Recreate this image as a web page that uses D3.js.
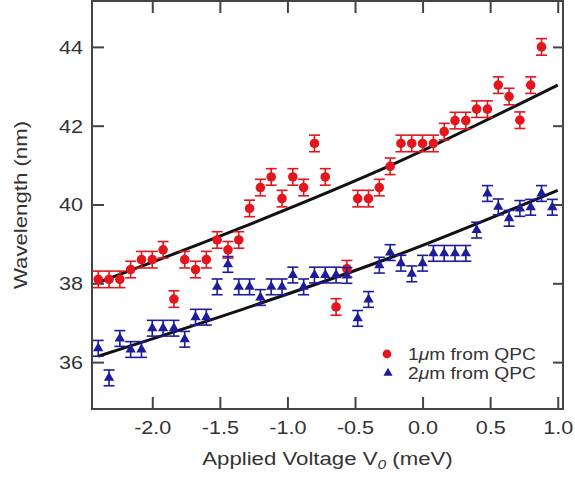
<!DOCTYPE html>
<html>
<head>
<meta charset="utf-8">
<script src="https://cdn.jsdelivr.net/npm/d3@7"></script>
<style>
body { margin: 0; background: #fff; }
text { font-family: "Liberation Sans", Arial, sans-serif; fill: #333; }
</style>
</head>
<body>
<div id="chart"></div>
<script>
const width = 575, height = 479;

// applied voltage V0 (meV) for each measurement
const volts = [-2.40, -2.32, -2.24, -2.16, -2.08, -2.00, -1.92, -1.84, -1.76, -1.68,
    -1.60, -1.52, -1.44, -1.36, -1.28, -1.20, -1.12, -1.04, -0.96, -0.88,
    -0.80, -0.72, -0.64, -0.56, -0.48, -0.40, -0.32, -0.24, -0.16, -0.08,
    0.00, 0.08, 0.16, 0.24, 0.32, 0.40, 0.48, 0.56, 0.64, 0.72,
    0.80, 0.88, 0.96];

// wavelength (nm), 1um from QPC
const red = [38.10, 38.10, 38.10, 38.35, 38.60, 38.60, 38.85, 37.60, 38.60, 38.35,
    38.60, 39.10, 38.85, 39.10, 39.90, 40.43, 40.70, 40.15, 40.70, 40.43,
    41.55, 40.70, 37.40, 38.37, 40.15, 40.15, 40.43, 40.97, 41.55, 41.55,
    41.55, 41.55, 41.85, 42.13, 42.13, 42.42, 42.42, 43.03, 42.74, 42.14,
    43.03, 44.00];

// wavelength (nm), 2um from QPC
const blue = [36.35, 35.60, 36.60, 36.32, 36.32, 36.86, 36.86, 36.86, 36.58, 37.14,
    37.14, 37.91, 38.48, 37.91, 37.91, 37.64, 37.91, 37.91, 38.21, 37.91,
    38.21, 38.21, 38.21, 38.20, 37.11, 37.59, 38.46, 38.78, 38.51, 38.24,
    38.51, 38.76, 38.76, 38.76, 38.76, 39.35, 40.28, 39.94, 39.65, 39.90,
    39.93, 40.28, 39.93];

const errRed = 0.21, errBlue = 0.2;

// fit curves
const fitV = [-2.40, -1.35, -0.20, 1.00];
const fitRed = [38.02, 39.40, 41.05, 43.03];
const fitBlue = [36.15, 37.32, 38.70, 40.36];

const xTicks = [-2.0, -1.5, -1.0, -0.5, 0.0, 0.5, 1.0];
const yTicks = [36, 38, 40, 42, 44];

const plotL = 92, plotR = 563, plotT = 1, plotB = 409;
const stretch = 1.2;   // text in the figure is drawn wide

const svg = d3.select('#chart').append('svg')
    .attr('width', width)
    .attr('height', height);

const x = d3.scaleLinear().domain([-2.446, 1.039]).range([plotL, plotR]);
const y = d3.scaleLinear().domain([34.81, 45.165]).range([plotB, plotT]);

function styleAxis(g) {
    g.select('.domain').remove();
    g.selectAll('.tick line').attr('stroke', '#444').attr('stroke-width', 2);
}

// bottom axis with labels
svg.append('g')
    .attr('transform', `translate(0,${plotB})`)
    .call(d3.axisBottom(x).tickValues(xTicks).tickSize(-12).tickSizeOuter(0)
        .tickFormat(d => d.toFixed(1)))
    .call(styleAxis)
    .call(g => g.selectAll('.tick text')
        .attr('x', 0).attr('y', 0).attr('dy', 0)
        .attr('fill', '#333')
        .style('font-size', '18px')
        .attr('transform', `translate(0,24.5) scale(${stretch},1)`));

// left axis with labels
svg.append('g')
    .attr('transform', `translate(${plotL},0)`)
    .call(d3.axisLeft(y).tickValues(yTicks).tickSize(-12).tickSizeOuter(0))
    .call(styleAxis)
    .call(g => g.selectAll('.tick text')
        .attr('x', 0).attr('dy', '0.35em')
        .attr('fill', '#333')
        .style('font-size', '18px')
        .attr('transform', `translate(-9,0) scale(${stretch},1)`));

// mirror ticks
svg.append('g')
    .attr('transform', `translate(0,${plotT})`)
    .call(d3.axisTop(x).tickValues(xTicks).tickSize(-12).tickSizeOuter(0).tickFormat(''))
    .call(styleAxis);
svg.append('g')
    .attr('transform', `translate(${plotR},0)`)
    .call(d3.axisRight(y).tickValues(yTicks).tickSize(-10).tickSizeOuter(0).tickFormat(''))
    .call(styleAxis);

svg.append('rect')
    .attr('x', plotL).attr('y', plotT)
    .attr('width', plotR - plotL).attr('height', plotB - plotT)
    .attr('fill', 'none')
    .attr('stroke', '#444')
    .attr('stroke-width', 2);

// fit lines
const line = d3.line()
    .x(d => x(d[0]))
    .y(d => y(d[1]))
    .curve(d3.curveMonotoneX);
[fitRed, fitBlue].forEach(fit => {
    svg.append('path')
        .datum(fitV.map((v, i) => [v, fit[i]]))
        .attr('d', line)
        .attr('fill', 'none')
        .attr('stroke', '#111')
        .attr('stroke-width', 3);
});

function errorBars(vals, err, color) {
    const g = svg.append('g')
        .attr('stroke', color)
        .attr('stroke-width', 1.6);
    const pts = vals.map((v, i) => [volts[i], v]);
    g.selectAll('line.v').data(pts).enter().append('line')
        .attr('x1', d => x(d[0])).attr('x2', d => x(d[0]))
        .attr('y1', d => y(d[1] - err)).attr('y2', d => y(d[1] + err));
    [-err, err].forEach(e => {
        g.selectAll(null).data(pts).enter().append('line')
            .attr('x1', d => x(d[0]) - 5.5).attr('x2', d => x(d[0]) + 5.5)
            .attr('y1', d => y(d[1] + e)).attr('y2', d => y(d[1] + e));
    });
    return pts;
}

const redColor = '#e3161d', blueColor = '#1c1c9c';

const redPts = errorBars(red, errRed, redColor);
svg.append('g').selectAll('circle').data(redPts).enter().append('circle')
    .attr('cx', d => x(d[0]))
    .attr('cy', d => y(d[1]))
    .attr('r', 4.8)
    .attr('fill', redColor);

const bluePts = errorBars(blue, errBlue, blueColor);
const tri = d3.symbol().type(d3.symbolTriangle).size(46);
svg.append('g').selectAll('path').data(bluePts).enter().append('path')
    .attr('d', tri)
    .attr('transform', d => `translate(${x(d[0])},${y(d[1])})`)
    .attr('fill', blueColor);

// legend
svg.append('circle').attr('cx', 387).attr('cy', 354).attr('r', 4.4).attr('fill', redColor);
svg.append('path').attr('d', d3.symbol().type(d3.symbolTriangle).size(36))
    .attr('transform', 'translate(388,373)').attr('fill', blueColor);
[['1', 359.5], ['2', 378.5]].forEach(([n, by]) => {
    const t = svg.append('text')
        .attr('transform', `translate(408,${by}) scale(${stretch},1)`)
        .style('font-size', '16px');
    t.append('tspan').text(n);
    t.append('tspan').style('font-style', 'italic').text('μ');
    t.append('tspan').text('m from QPC');
});

// axis titles
const xt = svg.append('text')
    .attr('text-anchor', 'middle')
    .attr('transform', `translate(${(plotL + plotR) / 2},465) scale(${stretch},1)`)
    .style('font-size', '18.5px');
xt.append('tspan').text('Applied Voltage V');
xt.append('tspan').attr('dy', 4).style('font-size', '13px').style('font-style', 'italic').text('0');
xt.append('tspan').attr('dy', -4).text(' (meV)');

svg.append('text')
    .attr('text-anchor', 'middle')
    .attr('transform', `translate(27,${(plotT + plotB) / 2}) rotate(-90) scale(${stretch},1)`)
    .style('font-size', '18.5px')
    .text('Wavelength (nm)');
</script>
</body>
</html>
